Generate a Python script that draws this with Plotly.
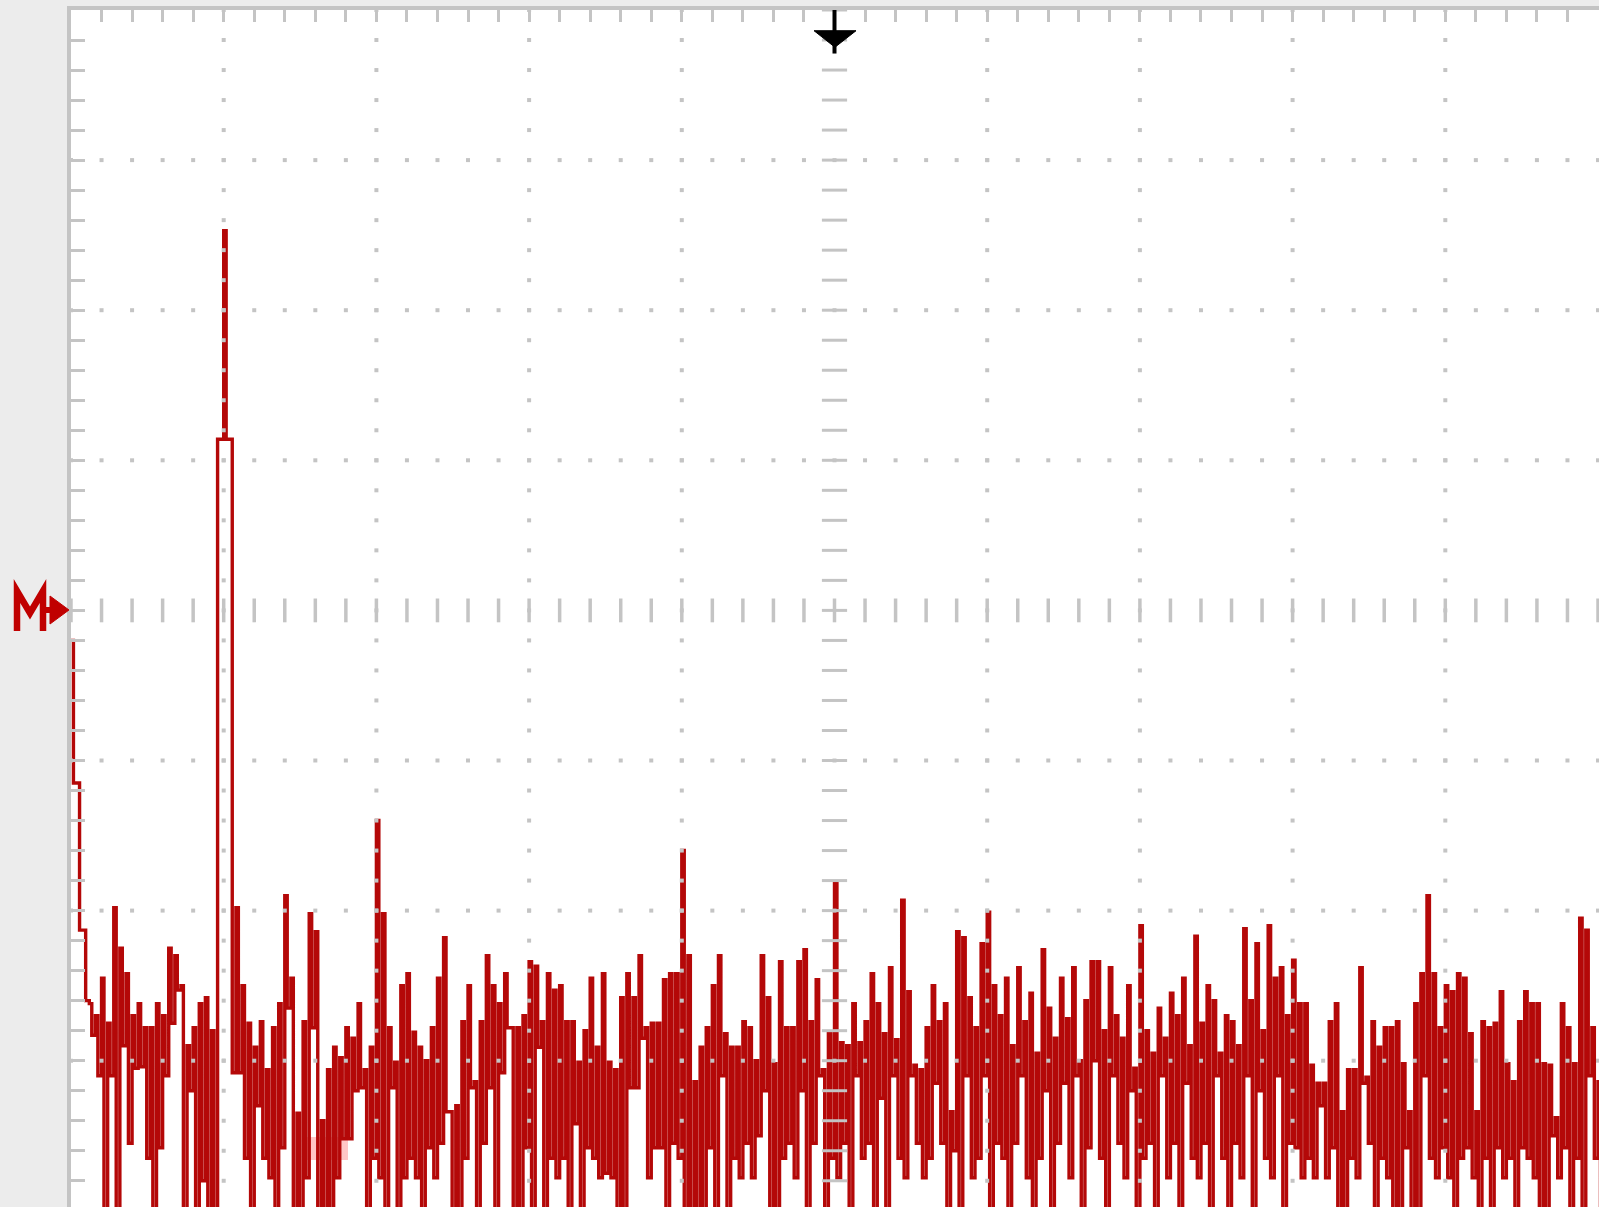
import plotly.graph_objects as go
import numpy as np

# ---- screen geometry (oscilloscope divisions) ----
X_DIVS = 10
Y_DIVS = 8
BIN_STEP = 0.04          # divisions per FFT bin

# ---- FFT trace: top and bottom of each bin, in vertical divisions ----
bin_top = [
    3.80, 2.85, 1.87, 1.38, 1.30, 1.55, 1.25, 2.02, 1.75, 1.58,
    1.30, 1.38, 1.22, 1.22, 1.38, 1.30, 1.75, 1.70, 1.50, 1.10,
    1.22, 1.38, 1.42, 1.20, 5.14, 6.53, 5.14, 2.02, 1.50, 1.25,
    1.09, 1.26, 0.94, 1.22, 1.38, 2.10, 1.55, 0.65, 1.26, 1.98,
    1.86, 0.60, 0.94, 1.09, 1.02, 1.22, 1.15, 1.38, 0.94, 1.09,
    2.60, 1.98, 1.22, 0.99, 1.50, 1.58, 1.19, 1.09, 1.00, 1.22,
    1.55, 1.82, 0.66, 0.70, 1.26, 1.50, 0.86, 1.26, 1.70, 1.50,
    1.38, 1.58, 1.22, 1.22, 1.30, 1.66, 1.63, 1.26, 1.58, 1.47,
    1.50, 1.26, 1.26, 0.99, 1.20, 1.55, 1.09, 1.58, 0.99, 0.94,
    1.42, 1.58, 1.42, 1.70, 1.22, 1.25, 1.25, 1.54, 1.58, 1.58,
    2.40, 1.70, 0.86, 1.09, 1.22, 1.50, 1.70, 1.18, 1.09, 1.09,
    1.26, 1.22, 1.00, 1.70, 1.42, 0.98, 1.66, 1.22, 1.22, 1.66,
    1.74, 1.26, 1.54, 0.94, 1.18, 2.19, 1.12, 1.10, 1.38, 1.12,
    1.26, 1.58, 1.38, 1.18, 1.62, 1.14, 2.07, 1.46, 0.97, 0.94,
    1.22, 1.50, 1.26, 1.38, 0.66, 1.86, 1.82, 1.42, 1.22, 1.78,
    1.99, 1.50, 1.30, 1.55, 1.10, 1.62, 1.26, 1.45, 1.05, 1.74,
    1.35, 1.15, 1.55, 1.28, 1.62, 1.00, 1.40, 1.66, 1.66, 1.20,
    1.62, 1.30, 1.15, 1.50, 0.95, 1.90, 1.20, 1.05, 1.35, 1.15,
    1.45, 1.30, 1.55, 1.10, 1.83, 1.25, 1.50, 1.40, 1.05, 1.30,
    1.26, 1.10, 1.88, 1.40, 1.78, 1.20, 1.90, 1.55, 1.62, 1.30,
    1.67, 1.38, 1.38, 0.97, 0.85, 0.85, 1.26, 1.38, 0.66, 0.94,
    0.94, 1.62, 0.89, 1.26, 1.09, 1.22, 1.22, 1.26, 0.98, 0.66,
    1.38, 1.58, 2.10, 1.58, 1.22, 1.50, 1.46, 1.58, 1.55, 1.18,
    0.66, 1.26, 1.22, 1.25, 1.46, 0.98, 0.86, 1.26, 1.46, 1.38,
    1.38, 0.98, 0.97, 0.62, 1.38, 1.22, 0.98, 1.95, 1.87, 1.22,
    0.86,
]

bin_bottom = [
    2.85, 1.87, 1.40, 1.17, 0.90, -0.5, 0.90, -0.5, 1.10, 0.45,
    0.95, 0.96, 0.35, -0.5, 0.42, 0.90, 1.25, 1.47, -0.5, 0.80,
    -0.5, 0.20, -0.5, -0.5, 5.14, 5.14, 0.92, 0.92, 0.35, -0.5,
    0.70, 0.35, 0.22, -0.5, 0.42, 1.35, -0.5, -0.5, 0.22, 1.22,
    -0.5, -0.5, -0.5, 0.22, 0.48, 0.48, 0.80, 0.82, -0.5, 0.35,
    0.22, -0.5, 0.82, -0.5, 0.22, 0.35, 0.22, -0.5, 0.42, 0.22,
    0.45, 0.66, -0.5, -0.5, 0.35, 0.82, -0.5, 0.45, 0.82, -0.5,
    0.92, 1.22, -0.5, -0.5, 0.42, -0.5, 1.09, -0.5, 0.35, 0.22,
    0.35, -0.5, 0.58, -0.5, 0.42, 0.35, 0.22, 0.25, 0.22, -0.5,
    -0.5, 0.82, 0.82, 1.15, 0.22, 0.42, 0.42, -0.5, 0.45, 0.35,
    -0.5, -0.5, -0.5, -0.5, 0.42, -0.5, 0.90, -0.5, 0.35, 0.22,
    0.45, 0.22, 0.50, 0.80, -0.5, -0.5, 0.35, 0.45, 0.22, 0.80,
    -0.5, 0.45, 0.90, -0.5, 0.35, 0.22, 0.45, -0.5, 0.90, 0.35,
    0.45, -0.5, 0.75, -0.5, 0.90, 0.35, 0.22, 0.90, 0.45, 0.22,
    0.35, 0.85, 0.45, -0.5, 0.40, -0.5, 0.90, 0.22, 0.35, 0.90,
    -0.5, 0.45, 0.35, -0.5, 0.45, 0.90, 0.22, -0.5, 0.35, 0.80,
    -0.5, 0.45, 0.85, 0.22, 0.90, -0.5, 0.42, 1.00, 0.35, -0.5,
    0.90, 0.45, 0.22, 0.80, -0.5, 0.35, 0.45, -0.5, 0.90, 0.22,
    0.45, -0.5, 0.85, 0.35, 0.22, 0.45, -0.5, 0.90, 0.35, -0.5,
    0.45, 0.22, 0.90, -0.5, 0.80, 0.35, 0.22, 0.90, -0.5, 0.45,
    0.42, 0.22, 0.35, 0.22, 0.70, 0.22, 0.42, -0.5, -0.5, 0.35,
    0.22, 0.85, 0.45, -0.5, 0.35, 0.22, -0.5, -0.5, 0.42, -0.5,
    -0.5, 0.90, 0.35, 0.22, 0.42, 0.22, -0.5, 0.35, 0.42, 0.22,
    -0.5, 0.35, -0.5, 0.42, 0.22, 0.35, -0.5, 0.42, 0.35, 0.22,
    -0.5, -0.5, 0.50, 0.22, 0.42, -0.5, 0.35, -0.5, 0.90, 0.35,
    -0.5,
]

TRACE_COLOR = "#b40808"
GRID_COLOR = "#c4c4c4"
TOP_FRACTION = 0.4       # share of a bin drawn at its top value

# ---- build the stepped trace ----
xs, ys = [], []
for i, (t, b) in enumerate(zip(bin_top, bin_bottom)):
    x0 = i * BIN_STEP
    xs += [x0, x0 + BIN_STEP * TOP_FRACTION]
    ys += [t, b]

fig = go.Figure()
fig.add_trace(go.Scatter(
    x=xs, y=ys, mode="lines", line_shape="hv",
    line=dict(color=TRACE_COLOR, width=3.4),
    hoverinfo="skip",
))

# ---- dotted graticule ----
minor_y = np.round(np.arange(0, Y_DIVS + 0.001, 0.2), 3)
minor_x = np.round(np.arange(0, X_DIVS + 0.001, 0.2), 3)
gx, gy = [], []
for k in range(1, X_DIVS):
    if k == X_DIVS // 2:
        continue
    gx += [k] * len(minor_y)
    gy += list(minor_y)
for k in range(1, Y_DIVS):
    if k == Y_DIVS // 2:
        continue
    gx += list(minor_x)
    gy += [k] * len(minor_x)
fig.add_trace(go.Scatter(
    x=gx, y=gy, mode="markers",
    marker=dict(symbol="square", size=4, color=GRID_COLOR, line=dict(width=0)),
    hoverinfo="skip",
))
# centre cross-hair with dashes
fig.add_trace(go.Scatter(
    x=[X_DIVS / 2] * len(minor_y), y=minor_y, mode="markers",
    marker=dict(symbol="line-ew", size=18, line=dict(width=3, color=GRID_COLOR)),
    hoverinfo="skip",
))
fig.add_trace(go.Scatter(
    x=minor_x, y=[Y_DIVS / 2] * len(minor_x), mode="markers",
    marker=dict(symbol="line-ns", size=17, line=dict(width=3.5, color=GRID_COLOR)),
    hoverinfo="skip",
))

W, H = 1599, 1207
L, T = 71, 10
plot_w = W - L
plot_h = H - T
x_px = 152.7
y_px = 150.1

shapes = [
    # trigger position marker (black down arrow at top centre)
    dict(type="line", xref="x", yref="y", x0=5, x1=5, y0=Y_DIVS, y1=7.71,
         line=dict(color="black", width=4)),
    dict(type="path", xref="x", yref="y",
         path="M 4.866,7.862 L 5.141,7.862 L 5.003,7.752 Z",
         fillcolor="black", line=dict(color="black", width=1)),
    # faint pink label box
    dict(type="rect", xref="x", yref="y", x0=1.545, x1=1.814, y0=0.339, y1=0.492,
         fillcolor="#ffc6c6", line=dict(width=0), layer="below"),
]


def px(xf):
    return (xf - L) / plot_w


def py(yf):
    return (H - yf) / plot_h


m_path = "M {:.5f},{:.5f} L {:.5f},{:.5f} L {:.5f},{:.5f} L {:.5f},{:.5f} L {:.5f},{:.5f}".format(
    px(17), py(631), px(17), py(591), px(30), py(613), px(43), py(591), px(43), py(631))
shapes.append(dict(type="path", xref="paper", yref="paper", path=m_path,
                   line=dict(color="#c00000", width=6.5)))
shapes.append(dict(type="line", xref="paper", yref="paper",
                   x0=px(42), x1=px(52), y0=py(610), y1=py(610),
                   line=dict(color="#c00000", width=6)))
arrow = "M {:.5f},{:.5f} L {:.5f},{:.5f} L {:.5f},{:.5f} Z".format(
    px(50), py(596), px(69), py(610), px(50), py(624))
shapes.append(dict(type="path", xref="paper", yref="paper", path=arrow,
                   fillcolor="#c00000", line=dict(color="#c00000", width=1)))

fig.update_layout(
    width=W, height=H,
    margin=dict(l=L, r=0, t=T, b=0, pad=0),
    paper_bgcolor="#ececec",
    plot_bgcolor="white",
    showlegend=False,
    shapes=shapes,
    xaxis=dict(
        range=[0, plot_w / x_px], side="top", showgrid=False, zeroline=False,
        tickmode="linear", tick0=0, dtick=0.2, ticks="inside", ticklen=12,
        tickwidth=3, tickcolor=GRID_COLOR, showticklabels=False,
        showline=True, linecolor=GRID_COLOR, linewidth=4, fixedrange=True,
    ),
    yaxis=dict(
        range=[Y_DIVS - plot_h / y_px, Y_DIVS], showgrid=False, zeroline=False,
        tickmode="linear", tick0=0, dtick=0.2, ticks="inside", ticklen=14,
        tickwidth=2.5, tickcolor=GRID_COLOR, showticklabels=False,
        showline=True, linecolor=GRID_COLOR, linewidth=4, fixedrange=True,
    ),
)

fig.write_html("out.html", config={"displayModeBar": False},
               post_script="document.body.style.margin='0';")
